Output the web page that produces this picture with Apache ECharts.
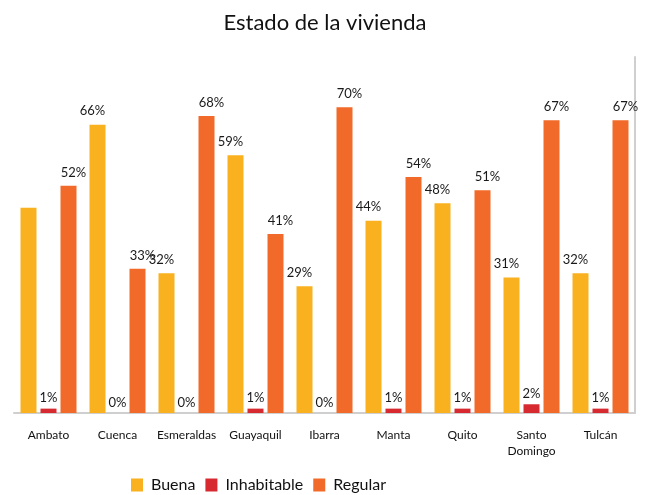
<!DOCTYPE html>
<html>
<head>
<meta charset="utf-8">
<script src="https://cdn.jsdelivr.net/npm/echarts@6/dist/echarts.min.js"></script>
<style>html,body{margin:0;padding:0;background:#fff;}#c{width:650px;height:495px;}</style>
</head>
<body>
<div id="c"></div>
<script>
const categories = ['Ambato', 'Cuenca', 'Esmeraldas', 'Guayaquil', 'Ibarra', 'Manta', 'Quito', 'Santo\nDomingo', 'Tulcán'];
const buena = [47, 66, 32, 59, 29, 44, 48, 31, 32];
const inhabitable = [1, 0, 0, 1, 0, 1, 1, 2, 1];
const regular = [52, 33, 68, 41, 70, 54, 51, 67, 67];
const hiddenBuenaLabels = [0]; // Ambato's Buena bar has no label in the source

const FONT = 'Lato';
const chart = echarts.init(document.getElementById('c'), null, {renderer: 'canvas'});

function lbl(offsetX, dist) {
  return {
    show: true, position: 'top', distance: dist, offset: [offsetX, 0],
    formatter: p => Math.round(p.value) + '%',
    fontFamily: FONT, fontSize: 13, color: '#1a1a1a'
  };
}

chart.setOption({
  animation: false,
  backgroundColor: '#fff',
  title: {
    text: 'Estado de la vivienda', left: 'center', top: 7,
    textStyle: {fontFamily: FONT, fontSize: 22, fontWeight: 'normal', color: '#111'}
  },
  legend: {
    left: 131, top: 477, padding: 0, itemWidth: 12, itemHeight: 13, itemGap: 10,
    icon: 'rect',
    textStyle: {fontFamily: FONT, fontSize: 16, color: '#111', padding: [0, 0, 0, 3]},
    data: ['Buena', 'Inhabitable', 'Regular']
  },
  grid: {left: 14, right: 15, top: 57, bottom: 82, containLabel: false},
  xAxis: {
    type: 'category', data: categories,
    axisLine: {show: true, lineStyle: {color: '#cfcfcf', width: 2}},
    axisTick: {show: false},
    axisLabel: {fontFamily: FONT, fontSize: 12, color: '#111', margin: 14, lineHeight: 16, interval: 0}
  },
  yAxis: [
    {type: 'value', min: 0, max: 81.5, show: true,
     axisLine: {show: false}, axisTick: {show: false}, axisLabel: {show: false}, splitLine: {show: false}},
    {type: 'value', min: 0, max: 81.5, position: 'right',
     axisLine: {show: true, lineStyle: {color: '#cfcfcf', width: 2}}, axisTick: {show: false},
     axisLabel: {show: false}, splitLine: {show: false}}
  ],
  series: [
    {name: 'Buena', type: 'bar', barWidth: 16, barGap: '25%',
     itemStyle: {color: '#F9B11F'},
     label: lbl(-5, 7),
     data: buena.map((v, i) => hiddenBuenaLabels.includes(i) ? {value: v, label: {show: false}} : v)},
    {name: 'Inhabitable', type: 'bar', barWidth: 16, barGap: '25%',
     itemStyle: {color: '#D72A30'},
     label: lbl(0, 4),
     data: inhabitable},
    {name: 'Regular', type: 'bar', barWidth: 16, barGap: '25%',
     itemStyle: {color: '#F26A29'},
     label: lbl(5, 7),
     data: regular}
  ]
});
</script>
</body>
</html>
